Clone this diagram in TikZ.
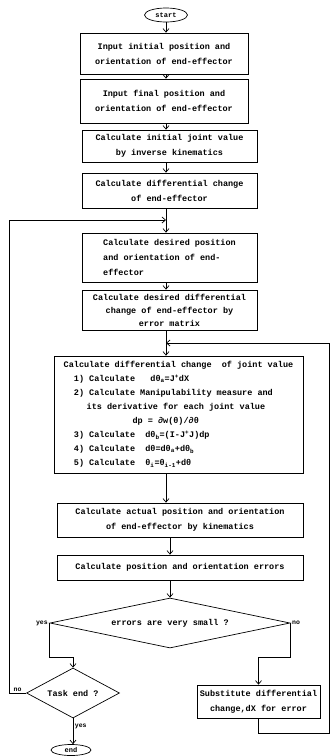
\documentclass[tikz,border=0pt]{standalone}
\usepackage{fontspec}
\setmonofont{Liberation Mono}
\usetikzlibrary{shapes.geometric}
\usetikzlibrary{arrows.meta}

\begin{document}
\begin{tikzpicture}[x=1pt, y=-1pt, line width=0.7pt,
    arr/.style={-{Straight Barb[length=3.5pt, width=6pt]}},
    proc/.style={draw, rectangle, inner sep=0pt, align=center,
      font=\ttfamily\bfseries\fontsize{8.5}{15}\selectfont},
    term/.style={draw, ellipse, inner sep=0pt,
      font=\ttfamily\bfseries\fontsize{7}{8}\selectfont},
    decide/.style={draw, diamond, inner sep=0pt,
      font=\ttfamily\bfseries\fontsize{8.5}{10}\selectfont},
    lbl/.style={inner sep=1.5pt, font=\ttfamily\bfseries\fontsize{6.5}{7}\selectfont}]
  \useasboundingbox (0, 0) rectangle (332, 756);

  \node[term, minimum width=43pt, minimum height=14pt] (start) at (166, 15) {start};
  \node[proc, minimum width=168pt, minimum height=41pt] (inini) at (164, 53.5) {Input initial position and\\orientation of end-effector};
  \node[proc, minimum width=168pt, minimum height=44pt] (infin) at (164, 101) {Input final position and\\orientation of end-effector};
  \node[proc, minimum width=175pt, minimum height=32pt] (joint0) at (169.5, 146) {Calculate initial joint value\\by inverse kinematics};
  \node[proc, minimum width=175pt, minimum height=35pt] (diff) at (169.5, 190.5) {Calculate differential change\\of end-effector};
  \node[proc, minimum width=175pt, minimum height=49pt, align=left] (desired) at (169.5, 257.5) {Calculate desired position\\and orientation of end-\\effector};
  \node[proc, minimum width=175pt, minimum height=40pt,
    font=\ttfamily\bfseries\fontsize{8.5}{13}\selectfont] (errmat) at (169.5, 310) {Calculate desired differential\\change of end-effector by\\error matrix};
  \node[proc, minimum width=249pt, minimum height=117pt, align=left,
    font=\ttfamily\bfseries\fontsize{8.5}{14}\selectfont] (jv) at (178.5, 414.5) {%
    Calculate differential change\ \ of joint value\\
    \hspace*{1.2em}1) Calculate\ \ \ dθ\textsubscript{a}=J\textsuperscript{+}dX\\
    \hspace*{1.2em}2) Calculate Manipulability measure and\\
    \hspace*{2.7em}its derivative for each joint value\\
    \hspace*{8.1em}dp = ∂w(θ)/∂θ\\
    \hspace*{1.2em}3) Calculate\ \ dθ\textsubscript{b}=(I-J\textsuperscript{+}J)dp\\
    \hspace*{1.2em}4) Calculate\ \ dθ=dθ\textsubscript{a}+dθ\textsubscript{b}\\
    \hspace*{1.2em}5) Calculate\ \ θ\textsubscript{i}=θ\textsubscript{i-1}+dθ};
  \node[proc, minimum width=246pt, minimum height=34pt] (kin) at (180, 520) {Calculate actual position and orientation\\of end-effector by kinematics};
  \node[proc, minimum width=246pt, minimum height=25pt] (poserr) at (180, 567.5) {Calculate position and orientation errors};
  \node[decide, aspect=4.8, minimum width=240pt, minimum height=50pt] (small) at (170, 623) {errors are very small ?};
  \node[decide, aspect=1.9, minimum width=93pt, minimum height=50pt] (task) at (73, 693) {Task end ?};
  \node[term, minimum width=40pt, minimum height=11pt] (end) at (71, 750) {end};
  \node[proc, minimum width=123pt, minimum height=33pt] (subst) at (258.5, 701.5) {Substitute differential\\change,dX for error};

  \coordinate (loop1) at (166, 220);
  \coordinate (loop2) at (166, 343);
  \coordinate (rtop) at (329, 343);

  \draw[arr] (start.south) -- (start.south |- inini.north);
  \draw[arr] (inini.south -| start) -- (infin.north -| start);
  \draw[arr] (infin.south -| start) -- (joint0.north -| start);
  \draw[arr] (joint0.south -| start) -- (diff.north -| start);
  \draw (diff.south -| start) -- (loop1);
  \draw[arr] (loop1) -- (desired.north -| start);
  \draw[arr] (desired.south -| start) -- (errmat.north -| start);
  \draw (errmat.south -| start) -- (loop2);
  \draw[arr] (loop2) -- (jv.north -| start);
  \draw[arr] (jv.south -| start) -- (kin.north -| start);
  \draw[arr] (kin.south -| small) -- (poserr.north -| small);
  \draw[arr] (poserr.south -| small) -- (small.north);

  \draw[arr] (small.west) node[lbl, left] {yes} -- ++(0, 34) -| (task.north);
  \draw[arr] (small.east) node[lbl, right] {no} -- ++(0, 34) -| (subst.north);
  \draw[arr] (task.west) -- ++(-17, 0) node[lbl, above, midway] {no} |- (loop1);
  \draw[arr] (task.south) -- node[lbl, right, pos=0.3] {yes} (task.south |- end.north);
  \draw[arr] (subst.south) -- ++(0, 15) -| (rtop) -- (loop2);
\end{tikzpicture}
\end{document}
